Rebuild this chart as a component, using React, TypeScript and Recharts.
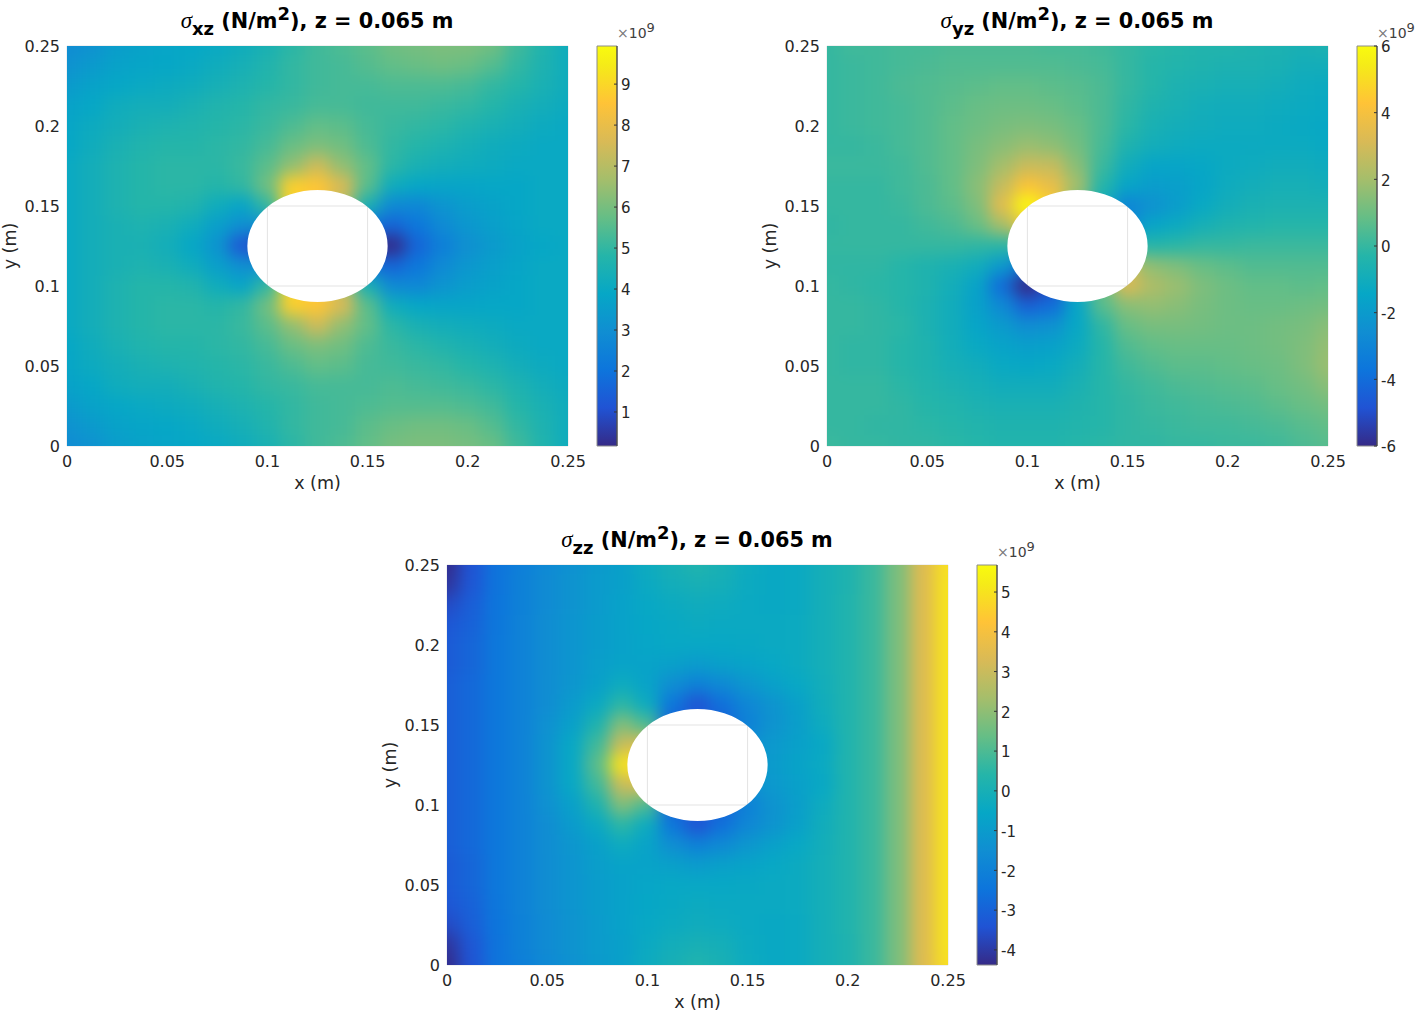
import { ScatterChart, Scatter, XAxis, YAxis, CartesianGrid, ReferenceArea } from "recharts";

const FONT = "'DejaVu Sans', sans-serif";
const PLOT_W = 501;
const PLOT_H = 400;
const AXIS_MAX = 0.25;
const HOLE_CENTER = 0.125;
const HOLE_RADIUS = 0.035;

const AXIS_TICKS = [0, 0.05, 0.1, 0.15, 0.2, 0.25];
const GRID_X = [0, 0.0125, 0.025, 0.0375, 0.05, 0.0625, 0.075, 0.0875, 0.1, 0.1125, 0.125, 0.1375, 0.15, 0.1625, 0.175, 0.1875, 0.2, 0.2125, 0.225, 0.2375, 0.25];
const GRID_Y = [0.25, 0.2375, 0.225, 0.2125, 0.2, 0.1875, 0.175, 0.1625, 0.15, 0.1375, 0.125, 0.1125, 0.1, 0.0875, 0.075, 0.0625, 0.05, 0.0375, 0.025, 0.0125, 0];

// parula colormap samples
const PARULA_POS = [0, 0.095, 0.19, 0.286, 0.381, 0.476, 0.571, 0.667, 0.762, 0.857, 0.952, 1];
const PARULA_RGB = [[53, 42, 135], [32, 83, 212], [13, 117, 220], [16, 142, 210], [6, 167, 198], [37, 181, 169], [101, 190, 134], [165, 190, 107], [217, 186, 86], [255, 195, 55], [245, 235, 24], [249, 251, 14]];

// values in 1e9 N/m2, rows from y = 0.25 down to y = 0, hole cells hold the nearby edge value
const SIGMA_XZ = [
  [2.9, 3.1, 3.5, 3.7, 3.8, 3.9, 4.0, 4.2, 4.5, 4.9, 5.2, 5.4, 5.6, 5.9, 6.0, 6.1, 6.1, 5.9, 5.2, 4.7, 4.2],
  [3.1, 3.4, 3.7, 3.8, 3.9, 4.0, 4.2, 4.4, 4.7, 5.0, 5.2, 5.3, 5.5, 5.7, 5.8, 5.9, 5.8, 5.5, 5.0, 4.6, 4.2],
  [3.4, 3.7, 3.9, 4.0, 4.1, 4.2, 4.4, 4.6, 4.8, 5.0, 5.2, 5.3, 5.3, 5.4, 5.4, 5.4, 5.3, 5.0, 4.8, 4.5, 4.2],
  [3.7, 3.9, 4.2, 4.3, 4.3, 4.5, 4.7, 4.8, 5.0, 5.1, 5.3, 5.3, 5.2, 5.2, 5.2, 5.1, 5.0, 4.8, 4.5, 4.3, 4.1],
  [3.8, 4.1, 4.3, 4.5, 4.6, 4.7, 4.8, 4.9, 5.1, 5.4, 5.7, 5.6, 5.3, 5.1, 5.0, 4.9, 4.7, 4.5, 4.3, 4.1, 4.0],
  [3.9, 4.2, 4.5, 4.7, 4.8, 4.8, 4.9, 5.0, 5.3, 5.8, 6.1, 5.9, 5.4, 5.0, 4.8, 4.6, 4.4, 4.2, 4.1, 4.0, 4.0],
  [4.0, 4.3, 4.6, 4.8, 4.9, 4.9, 4.9, 5.1, 5.6, 6.4, 7.4, 6.4, 5.7, 4.9, 4.5, 4.3, 4.2, 4.1, 4.0, 4.0, 4.0],
  [4.0, 4.3, 4.6, 4.8, 4.9, 4.9, 4.8, 5.0, 5.9, 8.8, 8.6, 7.6, 5.6, 4.2, 3.9, 3.8, 3.8, 3.9, 3.9, 4.0, 4.0],
  [4.0, 4.3, 4.6, 4.8, 4.8, 4.7, 4.2, 3.8, 5.0, 9.0, 8.5, 7.0, 4.5, 2.8, 2.7, 3.2, 3.5, 3.7, 3.9, 4.0, 4.0],
  [4.0, 4.3, 4.5, 4.6, 4.5, 4.2, 3.6, 3.0, 3.0, 5.0, 7.0, 5.0, 2.0, 1.6, 2.1, 2.8, 3.3, 3.6, 3.8, 4.0, 4.0],
  [4.0, 4.3, 4.5, 4.5, 4.3, 3.9, 3.2, 1.2, 0.6, 2.0, 3.0, 2.0, 0.2, 0.2, 1.6, 2.4, 3.0, 3.4, 3.7, 3.9, 4.0],
  [4.0, 4.3, 4.5, 4.6, 4.5, 4.2, 3.6, 3.0, 3.0, 5.0, 7.0, 5.0, 2.0, 1.6, 2.1, 2.8, 3.3, 3.6, 3.8, 4.0, 4.0],
  [4.0, 4.3, 4.6, 4.8, 4.8, 4.7, 4.2, 3.8, 5.0, 9.0, 8.5, 7.0, 4.5, 2.8, 2.7, 3.2, 3.5, 3.7, 3.9, 4.0, 4.0],
  [4.0, 4.3, 4.6, 4.8, 4.9, 4.9, 4.8, 5.0, 5.9, 8.8, 8.6, 7.6, 5.6, 4.2, 3.9, 3.8, 3.8, 3.9, 3.9, 4.0, 4.0],
  [4.0, 4.3, 4.6, 4.8, 4.9, 4.9, 4.9, 5.1, 5.6, 6.4, 7.4, 6.4, 5.7, 4.9, 4.5, 4.3, 4.2, 4.1, 4.0, 4.0, 4.0],
  [3.9, 4.2, 4.5, 4.7, 4.8, 4.8, 4.9, 5.0, 5.3, 5.8, 6.1, 5.9, 5.4, 5.1, 4.9, 4.7, 4.5, 4.3, 4.1, 4.0, 4.0],
  [3.8, 4.1, 4.3, 4.5, 4.6, 4.7, 4.8, 4.9, 5.1, 5.4, 5.7, 5.6, 5.3, 5.2, 5.1, 5.0, 4.8, 4.6, 4.3, 4.1, 4.0],
  [3.7, 3.9, 4.2, 4.3, 4.3, 4.5, 4.7, 4.8, 5.0, 5.1, 5.3, 5.3, 5.3, 5.4, 5.3, 5.2, 5.1, 4.9, 4.6, 4.3, 4.1],
  [3.4, 3.7, 3.9, 4.0, 4.1, 4.2, 4.4, 4.6, 4.8, 5.0, 5.2, 5.3, 5.4, 5.5, 5.5, 5.5, 5.4, 5.2, 4.8, 4.5, 4.2],
  [3.1, 3.4, 3.7, 3.8, 3.9, 4.0, 4.2, 4.4, 4.7, 5.0, 5.2, 5.3, 5.6, 5.8, 5.9, 5.9, 5.8, 5.5, 5.0, 4.6, 4.2],
  [2.9, 3.1, 3.5, 3.7, 3.8, 3.9, 4.0, 4.2, 4.5, 4.9, 5.2, 5.4, 5.7, 6.0, 6.1, 6.1, 6.0, 5.8, 5.2, 4.7, 4.2],
];

const SIGMA_YZ = [
  [0.0, 0.2, 0.2, 0.3, 0.3, 0.4, 0.4, 0.4, 0.4, 0.3, 0.3, 0.2, 0.0, -0.2, -0.3, -0.4, -0.4, -0.5, -0.6, -0.7, -0.6],
  [0.0, 0.1, 0.2, 0.3, 0.4, 0.5, 0.5, 0.5, 0.5, 0.5, 0.4, 0.3, 0.0, -0.3, -0.4, -0.5, -0.6, -0.6, -0.7, -0.9, -0.9],
  [0.0, 0.1, 0.2, 0.4, 0.5, 0.6, 0.7, 0.8, 0.8, 0.7, 0.6, 0.4, 0.0, -0.3, -0.6, -0.7, -0.8, -0.8, -0.9, -1.1, -1.2],
  [0.0, 0.1, 0.2, 0.3, 0.5, 0.7, 0.9, 1.0, 1.0, 0.9, 0.7, 0.4, -0.1, -0.5, -0.7, -0.9, -1.0, -1.0, -1.1, -1.2, -1.3],
  [0.0, 0.1, 0.2, 0.3, 0.5, 0.8, 1.0, 1.2, 1.3, 1.2, 0.9, 0.4, -0.2, -0.7, -0.9, -1.0, -1.1, -1.1, -1.2, -1.3, -1.4],
  [0.0, 0.0, 0.1, 0.3, 0.5, 0.8, 1.2, 1.5, 1.8, 1.6, 1.1, 0.3, -0.5, -0.9, -1.1, -1.2, -1.2, -1.2, -1.2, -1.2, -1.3],
  [0.1, 0.1, 0.1, 0.2, 0.5, 0.8, 1.3, 2.0, 2.8, 2.7, 1.5, 0.1, -1.0, -1.5, -1.5, -1.4, -1.2, -1.1, -1.0, -1.0, -1.1],
  [0.0, 0.0, 0.0, 0.2, 0.4, 0.8, 1.5, 2.7, 4.2, 3.6, 2.0, -0.3, -1.5, -1.9, -1.8, -1.5, -1.1, -0.9, -0.8, -0.8, -0.9],
  [0.0, 0.0, 0.0, 0.1, 0.4, 0.7, 1.3, 3.4, 6.0, 4.5, 1.0, -1.0, -3.0, -2.4, -1.9, -1.3, -0.9, -0.7, -0.6, -0.6, -0.6],
  [-0.1, 0.0, 0.0, 0.0, 0.2, 0.4, 0.9, 2.0, 4.0, 3.0, 0.0, -2.0, -2.8, -1.5, -1.2, -0.8, -0.5, -0.4, -0.3, -0.3, -0.3],
  [0.0, 0.0, 0.0, 0.0, 0.0, 0.0, -0.1, -0.2, 0.0, 0.0, 0.0, 0.0, 0.0, -0.3, -0.2, 0.0, 0.0, 0.1, 0.1, 0.1, 0.1],
  [-0.1, -0.1, -0.1, -0.3, -0.5, -0.7, -1.0, -2.0, -4.0, -3.0, 0.0, 2.0, 2.8, 1.6, 1.3, 0.9, 0.7, 0.5, 0.5, 0.5, 0.5],
  [0.0, -0.1, -0.2, -0.3, -0.5, -0.9, -1.6, -4.0, -6.0, -5.0, -1.0, 1.0, 3.2, 2.2, 1.8, 1.3, 1.0, 0.8, 0.8, 0.7, 0.8],
  [0.0, 0.0, -0.1, -0.3, -0.6, -1.0, -1.7, -2.8, -4.4, -4.0, -1.5, 0.6, 1.5, 1.7, 1.5, 1.2, 1.0, 0.9, 0.9, 1.0, 1.1],
  [0.0, 0.0, -0.1, -0.2, -0.6, -1.0, -1.5, -2.0, -2.6, -2.4, -1.4, -0.1, 0.9, 1.2, 1.2, 1.1, 1.0, 1.0, 1.1, 1.2, 1.5],
  [0.0, -0.1, -0.1, -0.3, -0.5, -0.9, -1.3, -1.6, -1.8, -1.7, -1.2, -0.3, 0.5, 0.8, 0.9, 0.9, 0.9, 1.0, 1.1, 1.3, 1.7],
  [0.0, -0.1, -0.1, -0.3, -0.5, -0.8, -1.0, -1.3, -1.4, -1.3, -0.9, -0.3, 0.2, 0.5, 0.7, 0.7, 0.8, 0.9, 1.0, 1.3, 1.8],
  [0.0, 0.0, 0.0, -0.2, -0.4, -0.6, -0.8, -1.0, -1.0, -1.0, -0.7, -0.3, 0.0, 0.2, 0.4, 0.5, 0.6, 0.7, 0.9, 1.1, 1.5],
  [0.0, 0.0, 0.0, -0.1, -0.3, -0.4, -0.6, -0.7, -0.7, -0.7, -0.5, -0.3, -0.1, 0.1, 0.2, 0.3, 0.4, 0.5, 0.7, 0.9, 1.1],
  [0.0, 0.0, -0.1, -0.1, -0.2, -0.3, -0.4, -0.5, -0.5, -0.5, -0.4, -0.3, -0.1, 0.0, 0.1, 0.2, 0.2, 0.3, 0.4, 0.6, 0.8],
  [0.1, 0.0, 0.0, -0.1, -0.1, -0.2, -0.3, -0.4, -0.4, -0.4, -0.3, -0.2, -0.1, -0.1, 0.0, 0.0, 0.1, 0.1, 0.2, 0.4, 0.6],
];

const SIGMA_ZZ = [
  [-4.3, -3.4, -2.5, -2.1, -1.7, -1.35, -1.05, -0.8, -0.3, 0.0, 0.25, 0.05, -0.3, -0.45, -0.4, -0.1, 0.2, 0.7, 1.7, 3.4, 4.9],
  [-4.1, -3.3, -2.5, -2.0, -1.6, -1.3, -1.0, -0.8, -0.4, -0.15, 0.0, -0.1, -0.35, -0.45, -0.4, -0.1, 0.2, 0.7, 1.7, 3.4, 5.0],
  [-3.6, -3.1, -2.45, -2.0, -1.6, -1.3, -1.0, -0.75, -0.5, -0.35, -0.25, -0.3, -0.4, -0.45, -0.4, -0.1, 0.25, 0.7, 1.7, 3.4, 5.0],
  [-3.3, -3.0, -2.4, -1.95, -1.55, -1.25, -0.95, -0.75, -0.55, -0.45, -0.35, -0.4, -0.4, -0.4, -0.35, -0.1, 0.25, 0.7, 1.7, 3.4, 5.0],
  [-3.2, -2.9, -2.35, -1.95, -1.55, -1.25, -0.95, -0.75, -0.6, -0.5, -0.5, -0.5, -0.45, -0.4, -0.35, -0.1, 0.25, 0.7, 1.7, 3.4, 5.0],
  [-3.2, -2.9, -2.35, -1.95, -1.55, -1.25, -0.9, -0.7, -0.7, -0.8, -1.0, -0.8, -0.7, -0.5, -0.35, -0.1, 0.25, 0.7, 1.7, 3.4, 5.0],
  [-3.1, -2.8, -2.35, -1.95, -1.55, -1.2, -0.8, -0.3, -0.7, -1.5, -2.0, -1.7, -1.2, -0.8, -0.5, -0.15, 0.25, 0.7, 1.7, 3.4, 5.0],
  [-3.1, -2.8, -2.35, -1.95, -1.55, -1.0, -0.4, 0.5, -0.3, -2.4, -3.4, -2.6, -1.8, -1.3, -0.8, -0.2, 0.25, 0.7, 1.7, 3.4, 5.0],
  [-3.1, -2.8, -2.35, -1.95, -1.4, -0.8, 0.2, 1.8, 1.0, -3.0, -3.0, -3.0, -2.0, -1.3, -0.9, -0.3, 0.25, 0.7, 1.7, 3.4, 5.0],
  [-3.1, -2.8, -2.35, -1.95, -1.3, -0.5, 0.8, 3.0, 3.5, 0.0, -1.2, -1.5, -1.5, -1.1, -0.8, -0.5, 0.25, 0.7, 1.7, 3.4, 5.0],
  [-3.1, -2.8, -2.35, -1.95, -1.3, -0.5, 1.2, 5.0, 5.0, 0.0, -1.0, -1.2, -1.2, -1.0, -0.7, -0.4, 0.25, 0.7, 1.7, 3.4, 5.0],
  [-3.1, -2.8, -2.35, -1.95, -1.3, -0.5, 0.8, 3.0, 3.5, 0.0, -1.2, -1.5, -1.5, -1.1, -0.8, -0.5, 0.25, 0.7, 1.7, 3.4, 5.0],
  [-3.1, -2.8, -2.35, -1.95, -1.4, -0.8, 0.2, 1.8, 1.0, -3.0, -3.0, -3.0, -2.0, -1.3, -0.9, -0.3, 0.25, 0.7, 1.7, 3.4, 5.0],
  [-3.1, -2.8, -2.35, -1.95, -1.55, -1.0, -0.4, 0.5, -0.3, -2.4, -3.4, -2.6, -1.8, -1.3, -0.8, -0.2, 0.25, 0.7, 1.7, 3.4, 5.0],
  [-3.1, -2.8, -2.35, -1.95, -1.55, -1.2, -0.8, -0.3, -0.7, -1.5, -2.0, -1.7, -1.2, -0.8, -0.5, -0.15, 0.25, 0.7, 1.7, 3.4, 5.0],
  [-3.2, -2.9, -2.35, -1.95, -1.55, -1.25, -0.9, -0.7, -0.7, -0.8, -1.0, -0.8, -0.7, -0.5, -0.35, -0.1, 0.25, 0.7, 1.7, 3.4, 5.0],
  [-3.2, -2.9, -2.35, -1.95, -1.55, -1.25, -0.95, -0.75, -0.6, -0.5, -0.5, -0.5, -0.45, -0.4, -0.35, -0.1, 0.25, 0.7, 1.7, 3.4, 5.0],
  [-3.3, -3.0, -2.4, -1.95, -1.55, -1.25, -0.95, -0.75, -0.55, -0.45, -0.35, -0.4, -0.4, -0.4, -0.35, -0.1, 0.25, 0.7, 1.7, 3.4, 5.0],
  [-3.6, -3.1, -2.45, -2.0, -1.6, -1.3, -1.0, -0.75, -0.5, -0.35, -0.25, -0.3, -0.4, -0.45, -0.4, -0.1, 0.25, 0.7, 1.7, 3.4, 5.0],
  [-4.1, -3.3, -2.5, -2.0, -1.6, -1.3, -1.0, -0.8, -0.4, -0.15, 0.0, -0.1, -0.35, -0.45, -0.4, -0.1, 0.2, 0.7, 1.7, 3.4, 5.0],
  [-4.3, -3.4, -2.5, -2.1, -1.7, -1.35, -1.05, -0.8, -0.3, 0.0, 0.25, 0.05, -0.3, -0.45, -0.4, -0.1, 0.2, 0.7, 1.7, 3.4, 4.9],
];

const XZ_BAR_TICKS = [1, 2, 3, 4, 5, 6, 7, 8, 9];
const YZ_BAR_TICKS = [-6, -4, -2, 0, 2, 4, 6];
const ZZ_BAR_TICKS = [-4, -3, -2, -1, 0, 1, 2, 3, 4, 5];

function parula(t: number) {
  const v = Math.max(0, Math.min(1, t));
  let i = 0;
  while (i < PARULA_POS.length - 2 && v > PARULA_POS[i + 1]) i++;
  const f = (v - PARULA_POS[i]) / (PARULA_POS[i + 1] - PARULA_POS[i]);
  const c = PARULA_RGB[i].map((a, k) => Math.round(a + (PARULA_RGB[i + 1][k] - a) * f));
  return `rgb(${c[0]},${c[1]},${c[2]})`;
}

const MARGIN_LEFT = 66;
const MARGIN_TOP = 10;
const CELL_W = PLOT_W / 20;
const CELL_H = PLOT_H / 20;
const EDGE = 30;

function Field({ id, left, top, rows, min, max }: any) {
  const data = rows.flatMap((row: number[], i: number) => row.map((v, j) => ({ x: GRID_X[j], y: GRID_Y[i], v })));

  // plot rectangle with the hole cut out, used as clip after the blur
  const rx = (HOLE_RADIUS / AXIS_MAX) * PLOT_W;
  const ry = (HOLE_RADIUS / AXIS_MAX) * PLOT_H;
  const hx = MARGIN_LEFT + (HOLE_CENTER / AXIS_MAX) * PLOT_W;
  const hy = MARGIN_TOP + (HOLE_CENTER / AXIS_MAX) * PLOT_H;
  const clip = `M${MARGIN_LEFT} ${MARGIN_TOP}h${PLOT_W}v${PLOT_H}h${-PLOT_W}z M${hx - rx} ${hy}a${rx} ${ry} 0 1 0 ${2 * rx} 0a${rx} ${ry} 0 1 0 ${-2 * rx} 0z`;

  const cell = (p: any) => {
    const { x, y, v } = p.payload;
    const l = x === 0 ? EDGE : 0;
    const r = x === AXIS_MAX ? EDGE : 0;
    const t = y === AXIS_MAX ? EDGE : 0;
    const b = y === 0 ? EDGE : 0;
    return (
      <rect
        x={p.cx - CELL_W / 2 - l - 0.5}
        y={p.cy - CELL_H / 2 - t - 0.5}
        width={CELL_W + l + r + 1}
        height={CELL_H + t + b + 1}
        fill={parula((v - min) / (max - min))}
      />
    );
  };

  return (
    <div style={{ position: "absolute", left: left - MARGIN_LEFT, top: top - MARGIN_TOP }}>
      <style>{`.heat-${id}{filter:blur(8px);clip-path:url(#clip-${id});}`}</style>
      <ScatterChart width={MARGIN_LEFT + PLOT_W + 30} height={MARGIN_TOP + PLOT_H + 50} margin={{ top: MARGIN_TOP, right: 30, bottom: 0, left: 0 }}>
        <defs>
          <clipPath id={`clip-${id}`}>
            <path d={clip} clipRule="evenodd" />
          </clipPath>
        </defs>
        <CartesianGrid stroke="#e3e3e3" strokeWidth={1} />
        <XAxis
          type="number"
          dataKey="x"
          domain={[0, AXIS_MAX]}
          ticks={AXIS_TICKS}
          interval={0}
          height={50}
          axisLine={false}
          tickLine={false}
          tickMargin={4}
          tick={{ fontSize: 16, fill: "#262626", fontFamily: FONT }}
          label={{ value: "x (m)", position: "insideBottom", offset: 7, style: { fontSize: 17.5, fill: "#262626", fontFamily: FONT } }}
        />
        <YAxis
          type="number"
          dataKey="y"
          domain={[0, AXIS_MAX]}
          ticks={AXIS_TICKS}
          interval={0}
          width={MARGIN_LEFT}
          axisLine={false}
          tickLine={false}
          tickMargin={1}
          tick={{ fontSize: 16, fill: "#262626", fontFamily: FONT }}
          label={{ value: "y (m)", angle: -90, position: "insideLeft", offset: 9, style: { fontSize: 17.5, fill: "#262626", fontFamily: FONT, textAnchor: "middle" } }}
        />
        <Scatter data={data} shape={cell} className={`heat-${id}`} isAnimationActive={false} />
      </ScatterChart>
    </div>
  );
}

function ColorBar({ id, left, top, min, max, ticks }: any) {
  const ends = [{ x: 0, y: min }, { x: 1, y: max }];
  return (
    <div style={{ position: "absolute", left: left - 1, top: top - MARGIN_TOP }}>
      <ScatterChart width={60} height={MARGIN_TOP + PLOT_H + 10} margin={{ top: MARGIN_TOP, right: 0, bottom: 10, left: 1 }}>
        <defs>
          <linearGradient id={`bar-${id}`} x1="0" y1="1" x2="0" y2="0">
            {PARULA_POS.map((p) => (
              <stop key={p} offset={p} stopColor={parula(p)} />
            ))}
          </linearGradient>
        </defs>
        <XAxis type="number" dataKey="x" domain={[0, 1]} hide />
        <YAxis
          type="number"
          dataKey="y"
          orientation="right"
          domain={[min, max]}
          ticks={ticks}
          interval={0}
          width={39}
          tickSize={-3}
          tickMargin={7}
          stroke="#333333"
          tick={{ fontSize: 15, fill: "#262626", fontFamily: FONT, dy: 1 }}
        />
        <ReferenceArea x1={0} x2={1} y1={min} y2={max} fill={`url(#bar-${id})`} fillOpacity={1} stroke="#8c8c8c" />
        <Scatter data={ends} shape={() => null} isAnimationActive={false} />
      </ScatterChart>
    </div>
  );
}

function Title({ center, top, sub }: any) {
  return (
    <div
      style={{
        position: "absolute",
        left: center - 200,
        top,
        width: 400,
        textAlign: "center",
        fontFamily: FONT,
        fontWeight: 700,
        fontSize: 20.8,
        color: "#000",
        whiteSpace: "nowrap",
        lineHeight: "24px",
      }}
    >
      <span style={{ fontFamily: "'Liberation Serif', serif", fontStyle: "italic", fontWeight: 400, fontSize: 23 }}>σ</span>
      <span style={{ fontSize: 18, position: "relative", top: 7 }}>{sub}</span> (N/m<span style={{ fontSize: 18, position: "relative", top: -8 }}>2</span>), z = 0.065 m
    </div>
  );
}

function Exponent({ left, top }: any) {
  return (
    <div style={{ position: "absolute", left, top, fontFamily: FONT, fontSize: 14, color: "#404040", lineHeight: "20px", whiteSpace: "nowrap" }}>
      <span style={{ color: "#777" }}>×</span>10<sup style={{ fontSize: 13, lineHeight: 0 }}>9</sup>
    </div>
  );
}

export default function App() {
  return (
    <div style={{ position: "absolute", left: 0, top: 0, width: 1419, height: 1012, background: "#fff", overflow: "hidden" }}>
      <Title center={317} top={9} sub="xz" />
      <Field id="xz" left={67} top={46} rows={SIGMA_XZ} min={0.17} max={9.93} />
      <ColorBar id="xz" left={597} top={46} min={0.17} max={9.93} ticks={XZ_BAR_TICKS} />
      <Exponent left={617} top={23} />

      <Title center={1077} top={9} sub="yz" />
      <Field id="yz" left={827} top={46} rows={SIGMA_YZ} min={-6} max={6} />
      <ColorBar id="yz" left={1357} top={46} min={-6} max={6} ticks={YZ_BAR_TICKS} />
      <Exponent left={1377} top={23} />

      <Title center={697} top={528} sub="zz" />
      <Field id="zz" left={447} top={565} rows={SIGMA_ZZ} min={-4.38} max={5.68} />
      <ColorBar id="zz" left={977} top={565} min={-4.38} max={5.68} ticks={ZZ_BAR_TICKS} />
      <Exponent left={997} top={542} />
    </div>
  );
}
